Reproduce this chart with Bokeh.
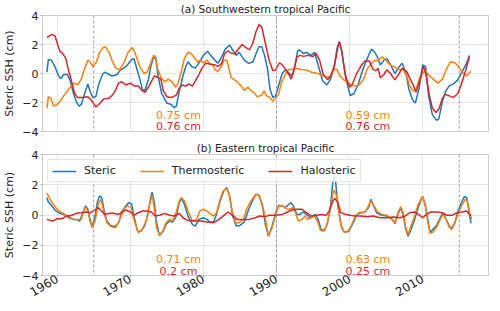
import math
from bokeh.plotting import figure
from bokeh.layouts import column
from bokeh.models import Span, Legend, LegendItem, Label, FixedTicker
from bokeh.embed import file_html
from bokeh.resources import INLINE

# ---------------- data ----------------
years_ticks = [1960, 1970, 1980, 1990, 2000, 2010]
y_ticks = [-4, -2, 0, 2, 4]
marker_years = [1965, 1990, 2015]
series_names = ["Steric", "Thermosteric", "Halosteric"]
colors = ["#1f77b4", "#ff7f0e", "#d62728"]

# Panel (a) Southwestern tropical Pacific
a_steric_t = [1958.6,1958.8,1959.2,1959.7,1960.2,1960.5,1960.9,1961.4,1961.8,1962.2,1962.6,1963.0,1963.3,1963.7,1964.2,1964.5,1964.9,1965.3,1965.7,1966.2,1966.5,1967.1,1967.5,1968.2,1968.6,1969.1,1969.5,1970.2,1970.5,1970.8,1971.3,1971.7,1972.0,1972.5,1972.8,1973.2,1973.5,1973.8,1974.3,1975.0,1975.6,1976.0,1976.3,1976.7,1977.2,1977.6,1977.9,1978.4,1978.9,1979.5,1980.0,1980.6,1981.0,1981.6,1982.0,1982.5,1983.0,1983.6,1984.0,1984.5,1984.9,1985.6,1986.2,1986.8,1987.2,1987.6,1988.0,1988.4,1988.8,1989.1,1989.5,1989.9,1990.3,1990.8,1991.3,1991.7,1992.1,1992.5,1992.9,1993.2,1993.7,1994.1,1994.7,1995.2,1995.7,1996.3,1996.9,1997.4,1997.9,1998.3,1998.6,1998.9,1999.5,2000.1,2000.6,2001.2,2001.8,2002.5,2003.0,2003.4,2003.8,2004.2,2004.7,2005.1,2005.6,2006.2,2006.8,2007.2,2007.7,2008.1,2008.6,2009.0,2009.5,2010.0,2010.4,2010.8,2011.3,2011.9,2012.2,2012.7,2013.1,2013.6,2014.2,2014.8,2015.3,2015.9,2016.4]
a_steric_v = [0.09,0.96,0.92,0.48,-0.17,-0.35,-0.07,-0.07,-0.50,-1.31,-1.92,-2.25,-2.14,-1.49,-0.72,-1.22,-1.66,-1.60,-0.72,-0.07,0.09,-0.07,-0.17,-0.07,0.22,0.37,0.52,0.96,1.03,0.52,-0.39,-1.16,-1.16,-0.39,0.48,1.10,1.03,-0.17,-1.38,-2.03,-2.14,-2.36,-2.25,-1.27,-0.17,0.48,0.81,0.48,0.37,0.81,1.25,1.53,1.25,0.92,0.70,1.14,1.68,1.97,1.62,1.25,1.46,0.92,0.70,0.81,1.36,1.84,1.85,1.20,0.26,-1.05,-1.66,-1.53,-0.83,0.04,0.26,0.04,-0.17,0.48,1.57,1.62,1.36,1.46,1.25,1.46,0.59,-0.50,-0.79,-0.39,0.48,1.80,2.19,1.57,-0.39,-1.53,-1.38,-0.72,0.26,1.14,1.68,1.50,1.14,0.59,0.92,1.03,0.59,0.00,0.48,0.70,0.04,-1.05,-1.81,-2.03,-1.05,0.59,0.48,-1.49,-2.80,-3.23,-3.13,-1.92,-1.27,-0.87,-0.72,-0.44,0.04,0.59,1.25]

a_thermo_t = [1958.6,1958.8,1959.2,1959.5,1960.0,1960.4,1960.9,1961.5,1962.0,1962.4,1962.8,1963.3,1963.7,1964.2,1964.5,1964.9,1965.4,1965.8,1966.3,1966.6,1967.1,1967.5,1968.0,1968.6,1969.2,1969.7,1970.3,1970.7,1971.3,1971.9,1972.3,1972.8,1973.2,1973.5,1973.7,1974.2,1974.7,1975.2,1975.7,1976.2,1976.5,1977.0,1977.4,1977.9,1978.3,1978.7,1979.2,1979.6,1980.0,1980.5,1980.9,1981.3,1981.6,1982.0,1982.4,1982.8,1983.2,1983.5,1983.8,1984.3,1984.7,1985.2,1985.6,1986.1,1986.5,1987.0,1987.4,1988.0,1988.3,1988.6,1989.0,1989.5,1989.8,1990.3,1990.7,1991.2,1991.6,1992.1,1992.6,1993.2,1993.7,1994.2,1994.8,1995.4,1996.0,1996.5,1997.0,1997.5,1997.9,1998.3,1998.7,1999.2,1999.7,2000.3,2000.8,2001.3,2001.9,2002.4,2003.0,2003.5,2003.9,2004.4,2004.9,2005.3,2005.8,2006.2,2006.8,2007.3,2007.8,2008.2,2008.7,2009.1,2009.6,2010.0,2010.4,2010.9,2011.6,2012.1,2012.7,2013.2,2013.8,2014.4,2014.9,2015.4,2016.0,2016.6]
a_thermo_v = [-2.40,-1.60,-1.75,-2.25,-2.14,-1.92,-1.53,-1.16,-0.79,-0.66,-0.79,-0.39,0.26,0.92,0.81,0.48,0.81,1.46,1.80,1.84,1.46,0.92,0.37,0.26,0.81,1.46,1.80,1.36,0.48,0.00,0.09,0.70,1.25,1.14,0.37,-0.28,-0.57,-0.39,-0.57,-0.94,-0.72,0.15,1.03,1.46,1.40,1.14,0.81,0.92,0.74,0.92,0.66,0.59,0.26,0.15,0.44,0.92,0.92,0.37,-0.28,-0.44,-0.61,-0.87,-1.16,-0.94,-1.16,-1.38,-1.60,-1.49,-1.20,-1.53,-1.60,-1.92,-1.75,-1.44,-0.61,-0.07,0.26,0.30,0.37,0.30,0.26,0.22,0.09,0.04,-0.07,-0.17,-0.28,-0.13,0.30,0.26,-0.17,-0.44,-0.61,-0.79,-0.87,-0.79,-0.39,0.30,0.70,0.92,0.87,1.14,0.96,0.70,0.52,0.44,0.26,0.30,-0.17,-0.83,-1.22,-1.05,-0.28,0.04,0.15,-0.17,-0.44,-0.66,-0.39,0.26,0.81,0.74,0.48,0.09,-0.17,0.15]

a_halo_t = [1958.6,1959.3,1959.7,1960.2,1960.4,1960.8,1961.2,1961.5,1962.0,1962.4,1962.8,1963.5,1964.2,1964.6,1965.3,1965.7,1966.4,1967.1,1967.5,1968.0,1968.4,1968.8,1969.4,1970.0,1970.6,1971.1,1971.6,1972.0,1972.6,1973.3,1973.8,1974.2,1974.5,1975.0,1975.6,1976.3,1976.7,1977.2,1977.6,1978.0,1978.5,1978.9,1979.4,1979.8,1980.3,1980.9,1981.6,1982.0,1982.5,1982.9,1983.4,1983.8,1984.3,1984.7,1985.3,1985.8,1986.3,1986.7,1987.2,1987.6,1988.0,1988.3,1988.6,1989.0,1989.5,1989.9,1990.4,1990.8,1991.2,1991.7,1992.0,1992.3,1992.8,1993.2,1993.7,1994.3,1995.0,1995.4,1995.9,1996.4,1997.0,1997.4,1997.9,1998.4,1998.6,1998.9,1999.4,2000.0,2000.4,2000.9,2001.5,2002.1,2002.7,2003.2,2003.6,2003.9,2004.2,2004.7,2005.1,2005.6,2006.2,2006.7,2007.2,2007.8,2008.3,2008.7,2009.1,2009.6,2010.1,2010.4,2010.9,2011.3,2011.8,2012.2,2012.7,2013.1,2013.6,2014.2,2014.8,2015.3,2015.9,2016.4]
a_halo_v = [2.49,2.70,2.60,1.80,1.53,1.36,1.03,0.37,-0.60,-1.38,-1.66,-1.66,-1.60,-1.80,-2.30,-2.14,-1.75,-1.70,-1.53,-1.16,-0.66,-0.57,-0.79,-0.66,-0.87,-0.87,-1.16,-1.31,-0.83,-0.17,-0.28,-0.39,-1.16,-1.60,-1.66,-1.49,-1.00,-0.79,-0.87,-0.72,-0.87,-0.50,-0.07,0.37,0.70,0.66,0.59,0.48,0.70,1.36,1.57,1.40,1.36,1.62,2.00,1.80,1.62,2.00,2.88,3.37,3.20,2.50,1.80,0.92,0.20,0.26,0.74,0.59,0.30,-0.07,-0.39,0.04,1.14,1.25,1.18,1.25,1.18,1.40,0.92,-0.07,-0.44,-0.17,0.48,1.80,2.19,1.68,-0.07,-0.94,-0.72,-0.07,0.48,0.87,0.87,0.30,0.18,0.37,-0.28,-0.07,0.26,0.00,-0.44,-0.07,0.37,0.15,-0.39,-0.79,-1.27,-0.50,0.52,0.04,-1.49,-2.36,-2.69,-2.47,-1.70,-1.44,-1.53,-1.66,-1.38,-0.72,0.26,1.18]

# Panel (b) Eastern tropical Pacific
b_steric_t = [1958.6,1958.8,1959.3,1959.7,1960.2,1960.8,1961.5,1962.2,1962.6,1963.1,1963.5,1963.9,1964.2,1964.5,1964.8,1965.2,1965.5,1965.8,1966.1,1966.4,1966.8,1967.3,1967.9,1968.4,1968.9,1969.4,1969.8,1970.2,1970.5,1971.0,1971.5,1972.0,1972.4,1972.8,1973.0,1973.3,1973.6,1974.0,1974.5,1974.9,1975.4,1975.8,1976.3,1976.7,1977.0,1977.4,1977.9,1978.5,1978.9,1979.4,1980.0,1980.5,1980.9,1981.4,1981.8,1982.3,1982.8,1983.2,1983.6,1984.0,1984.5,1985.0,1985.6,1986.2,1986.7,1987.2,1987.7,1988.1,1988.5,1988.9,1989.4,1989.9,1990.3,1990.8,1991.2,1991.7,1992.0,1992.3,1992.8,1993.2,1993.7,1994.1,1994.6,1995.0,1995.3,1995.7,1996.1,1996.6,1997.0,1997.4,1997.7,1997.9,1998.1,1998.4,1998.9,1999.3,1999.9,2000.5,2001.0,2001.6,2002.1,2002.6,2002.9,2003.2,2003.7,2004.4,2005.1,2005.8,2006.2,2006.7,2007.0,2007.3,2007.7,2008.0,2008.4,2008.9,2009.3,2009.8,2010.0,2010.4,2010.7,2011.0,2011.3,2011.9,2012.4,2012.8,2013.1,2013.6,2013.9,2014.4,2014.8,2015.2,2015.7,2016.0,2016.3,2016.6]
b_steric_v = [1.15,0.86,0.60,0.33,0.15,0.04,-0.07,-0.29,-0.29,-0.40,0.15,0.60,0.38,-0.40,-0.78,-0.07,0.82,1.26,1.15,0.38,-0.40,-0.69,-0.78,-0.51,0.26,0.60,0.82,0.71,-0.07,-1.07,-1.07,-0.69,0.04,1.15,1.50,0.82,-0.51,-1.36,-1.07,-0.62,-0.40,-0.47,-0.07,0.82,1.09,0.71,-0.07,-0.62,-0.73,-0.29,-0.18,-0.29,-0.47,-0.47,0.04,0.93,1.60,1.82,1.26,-0.07,-0.73,-0.69,-0.47,0.38,0.93,1.38,1.26,0.50,-0.65,-1.40,-0.73,0.15,0.64,0.60,0.49,0.71,0.82,0.60,0.04,0.04,0.20,0.04,-0.18,-0.07,0.04,-0.29,-0.96,-1.00,-0.51,0.60,2.15,2.60,2.15,0.60,-0.84,-1.13,-1.07,-0.51,0.04,0.15,0.20,0.49,1.04,0.71,0.15,-0.02,-0.07,-0.29,-0.56,0.15,0.49,0.04,-0.96,-1.40,-0.96,-0.29,0.38,1.04,1.22,0.60,-0.29,-1.13,-1.00,-0.69,-0.18,0.15,-0.18,-0.69,-0.91,-0.51,0.20,0.71,1.22,1.15,0.38,-0.56]

b_thermo_t = [1958.6,1958.8,1959.3,1960.0,1960.4,1960.9,1961.5,1962.2,1962.9,1963.3,1963.7,1964.0,1964.4,1964.8,1965.2,1965.6,1966.0,1966.4,1966.8,1967.4,1968.0,1968.5,1969.1,1969.6,1970.1,1970.5,1971.1,1971.6,1972.2,1972.6,1973.0,1973.3,1973.6,1974.0,1974.5,1974.9,1975.4,1975.8,1976.3,1976.7,1977.0,1977.4,1977.9,1978.5,1979.1,1979.5,1980.0,1980.5,1980.9,1981.4,1981.8,1982.3,1982.7,1983.2,1983.5,1984.0,1984.4,1984.9,1985.5,1985.9,1986.5,1987.1,1987.5,1988.0,1988.3,1988.6,1988.9,1989.4,1989.9,1990.3,1990.9,1991.3,1991.8,1992.2,1992.6,1993.0,1993.5,1993.9,1994.3,1994.8,1995.2,1995.6,1996.0,1996.5,1996.9,1997.4,1997.7,1997.9,1998.3,1998.7,1999.2,1999.7,2000.2,2000.8,2001.4,2002.0,2002.4,2002.9,2003.3,2003.8,2004.4,2005.1,2005.8,2006.2,2006.7,2007.0,2007.3,2007.7,2008.0,2008.4,2008.9,2009.3,2009.8,2010.0,2010.4,2010.7,2011.0,2011.4,2012.0,2012.4,2012.8,2013.2,2013.6,2014.0,2014.4,2014.9,2015.3,2015.8,2016.1,2016.4,2016.7]
b_thermo_v = [1.44,1.26,0.82,0.38,0.20,0.11,-0.18,-0.29,-0.29,-0.29,0.38,0.49,-0.07,-0.84,-0.40,0.71,1.04,0.20,-0.51,-0.78,-0.84,-0.40,0.38,0.60,0.49,-0.29,-1.18,-0.96,-0.40,0.60,1.31,0.40,-0.84,-1.36,-1.00,-0.51,-0.29,-0.40,0.20,0.93,1.15,0.93,0.26,-0.40,-0.29,0.26,0.38,0.26,0.11,-0.07,0.15,1.04,1.60,1.75,1.38,0.15,-0.51,-0.51,-0.29,0.38,0.93,1.31,1.38,0.82,0.20,-0.55,-1.40,-0.84,0.04,0.60,0.60,0.42,0.38,0.49,0.15,-0.40,-0.29,-0.07,-0.29,-0.18,-0.07,-0.40,-1.00,-1.07,-0.62,0.49,1.38,1.66,1.15,-0.40,-1.13,-1.13,-0.73,-0.07,0.20,0.15,0.42,0.93,0.65,0.22,0.04,-0.02,-0.25,-0.51,0.26,0.55,0.20,-0.84,-1.29,-0.73,-0.07,0.60,1.09,1.22,0.49,-0.51,-1.22,-1.13,-0.73,-0.29,0.04,-0.29,-0.78,-0.96,-0.51,0.15,0.60,1.04,0.93,0.15,-0.29]

b_halo_t = [1958.6,1959.4,1960.0,1960.6,1961.3,1962.0,1962.6,1963.3,1964.0,1964.6,1965.3,1965.6,1966.1,1966.5,1967.2,1967.7,1968.4,1969.1,1969.4,1970.0,1970.5,1971.1,1971.7,1972.4,1972.9,1973.4,1974.0,1974.7,1975.4,1976.0,1976.7,1977.2,1977.8,1978.7,1979.6,1980.5,1981.4,1982.0,1982.7,1983.4,1984.0,1984.6,1985.4,1986.3,1987.1,1987.7,1988.5,1989.0,1989.9,1990.8,1991.5,1992.1,1992.8,1993.5,1994.1,1994.8,1995.5,1996.1,1996.8,1997.2,1997.7,1998.0,1998.4,1998.8,1999.5,2000.1,2000.8,2001.5,2002.4,2003.2,2003.9,2004.2,2005.1,2006.0,2006.9,2007.6,2008.2,2008.9,2009.6,2010.0,2010.5,2011.1,2012.0,2012.7,2013.3,2014.0,2014.7,2015.4,2016.0,2016.6]
b_halo_v = [-0.29,-0.40,-0.25,-0.25,-0.07,-0.02,0.11,0.15,0.20,0.15,0.38,0.49,0.26,0.04,0.11,0.11,0.04,0.26,0.33,0.20,-0.02,0.15,0.26,0.26,0.20,-0.07,-0.02,0.11,-0.02,-0.07,0.11,-0.18,-0.34,-0.40,-0.40,-0.47,-0.51,-0.34,-0.07,0.20,-0.02,-0.29,-0.29,-0.29,-0.18,-0.07,-0.11,-0.02,-0.02,0.04,0.20,0.33,0.38,0.38,0.15,-0.07,-0.02,0.04,-0.02,0.26,0.93,1.09,0.82,0.15,0.04,-0.02,-0.07,-0.07,-0.11,-0.07,-0.15,-0.18,-0.18,-0.13,-0.18,-0.07,0.15,0.20,-0.02,-0.18,0.04,0.20,0.20,0.15,-0.02,-0.02,0.15,0.20,0.26,-0.07]

# RMS annotations (text, x-year, y-value, colour index)
a_notes = [("0.75 cm", 1976.6, -2.92, 1), ("0.76 cm", 1976.6, -3.64, 2),
           ("0.59 cm", 2002.5, -2.92, 1), ("0.76 cm", 2002.5, -3.64, 2)]
b_notes = [("0.71 cm", 1976.6, -2.96, 1), ("0.2 cm", 1976.6, -3.71, 2),
           ("0.63 cm", 2002.5, -2.96, 1), ("0.25 cm", 2002.5, -3.71, 2)]

FONT = "DejaVu Sans"


def make_panel(title, height, bottom, show_xaxis, series, notes):
    p = figure(width=492, height=height, x_range=(1958, 2019), y_range=(-4, 4),
               output_backend="svg", toolbar_location=None,
               min_border_left=30, min_border_right=4, min_border_top=0,
               min_border_bottom=bottom)
    p.title.text = title
    p.title.align = "center"
    p.title.text_font = FONT
    p.title.text_font_size = "10.5px"
    p.title.text_font_style = "normal"
    p.title.text_color = "#222222"
    p.title.standoff = 1
    p.title.offset = 0
    p.outline_line_color = "#cccccc"
    p.background_fill_color = "white"

    p.xaxis.ticker = FixedTicker(ticks=years_ticks)
    p.yaxis.ticker = FixedTicker(ticks=y_ticks)
    p.yaxis.major_label_overrides = {t: (str(t).replace("-", "\u2212")) for t in y_ticks}
    for ax in (p.xaxis, p.yaxis):
        ax.axis_line_color = "#cccccc"
        ax.major_tick_line_color = "#aaaaaa"
        ax.major_tick_out = 2
        ax.major_tick_in = 0
        ax.minor_tick_line_color = None
        ax.major_label_text_font = FONT
        ax.major_label_text_color = "#222222"
        ax.major_label_standoff = 2
    p.yaxis.major_label_text_font_size = "11px"
    p.xaxis.major_label_text_font_size = "12px"
    p.yaxis.axis_label = "Steric SSH (cm)"
    p.yaxis.axis_label_text_font = FONT
    p.yaxis.axis_label_text_font_size = "11px"
    p.yaxis.axis_label_text_font_style = "normal"
    p.yaxis.axis_label_text_color = "#222222"
    p.yaxis.axis_label_standoff = 3
    if show_xaxis:
        p.xaxis.major_label_orientation = math.pi / 6
        p.xaxis.major_label_standoff = 0
        p.xaxis.major_label_text_line_height = 0.8
    else:
        p.xaxis.visible = False

    p.xgrid.grid_line_color = "#e5e5e5"
    p.ygrid.grid_line_color = "#e5e5e5"

    for yr in marker_years:
        p.add_layout(Span(location=yr, dimension="height", line_color="#888888",
                          line_dash="3 2", line_width=0.8))

    renderers = []
    for (t, v), c in zip(series, colors):
        r = p.line(t, v, line_color=c, line_width=1.5)
        renderers.append(r)

    for txt, x, y, ci in notes:
        p.add_layout(Label(x=x, y=y, text=txt, text_color=colors[ci],
                           text_align="center", text_baseline="middle",
                           text_font=FONT, text_font_size="11px"))
    return p, renderers


pa, _ = make_panel("(a) Southwestern tropical Pacific", 139, 8, False,
                   [(a_steric_t, a_steric_v), (a_thermo_t, a_thermo_v), (a_halo_t, a_halo_v)],
                   a_notes)
pb, rb = make_panel("(b) Eastern tropical Pacific", 164, 26, True,
                    [(b_steric_t, b_steric_v), (b_thermo_t, b_thermo_v), (b_halo_t, b_halo_v)],
                    b_notes)

legend = Legend(items=[LegendItem(label=n, renderers=[r]) for n, r in zip(series_names, rb)],
                location="top_left", orientation="horizontal")
legend.label_text_font = FONT
legend.label_text_font_size = "11px"
legend.label_text_color = "#222222"
legend.glyph_width = 24
legend.glyph_height = 12
legend.label_standoff = 8
legend.spacing = 24
legend.padding = 4
legend.margin = 5
legend.border_line_color = "#cccccc"
legend.background_fill_alpha = 0.85
pb.add_layout(legend)

layout = column(pa, pb, spacing=0)
open("out.html", "w").write(file_html(layout, INLINE))
